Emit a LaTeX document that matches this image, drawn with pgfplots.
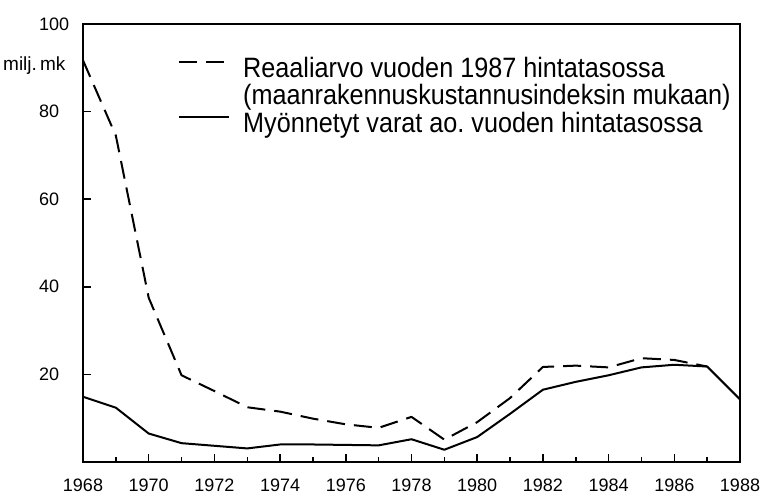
\documentclass[border=0pt]{standalone}
\usepackage{fontspec}
\setmainfont{Liberation Sans}
\newfontfamily\legfont{Liberation Sans}[FakeStretch=0.9]
\usepackage{pgfplots}
\pgfplotsset{compat=1.18}
\pgfplotstableread{
year val
1968 91.7
1969 74.5
1970 37.5
1971 19.8
1972 16.2
1973 12.5
1974 11.5
1975 9.9
1976 8.6
1977 7.8
1978 10.3
1979 5.1
1980 9.1
1981 14.6
1982 21.7
1983 22.0
1984 21.6
1985 23.7
1986 23.3
1987 21.8
}\real
\pgfplotstableread{
year val
1968 14.9
1969 12.4
1970 6.5
1971 4.3
1972 3.7
1973 3.1
1974 4.0
1975 4.0
1976 3.9
1977 3.8
1978 5.2
1979 2.8
1980 5.7
1981 11.0
1982 16.5
1983 18.3
1984 19.8
1985 21.6
1986 22.2
1987 21.8
1988 14.3
}\nominal
\begin{document}
\begin{tikzpicture}
\path[use as bounding box] (-83pt,-41pt) rectangle (677pt,462pt);
\begin{axis}[
  at={(0pt,0pt)}, anchor=south west,
  scale only axis, clip=false,
  width=657pt, height=438pt,
  xmin=1968, xmax=1988, ymin=0, ymax=100,
  xtick={1968,1970,...,1988},
  minor xtick={1969,1971,...,1987},
  ytick={20,40,60,80,100},
  tick pos=left,
  tick align=inside,
  major tick length=8pt, minor tick length=4.5pt,
  axis line style={line width=1.7pt},
  every tick/.style={line width=1.5pt, black},
  xticklabel style={font=\fontsize{18}{20}\selectfont, yshift=-13pt},
  yticklabel style={font=\fontsize{18}{20}\selectfont, anchor=west, inner sep=0pt, xshift=-44pt},
  /pgf/number format/1000 sep={},
  /pgf/number format/assume math mode=true,
  legend style={draw=none, fill=none, inner sep=0pt, at={(rel axis cs:0.1446,0.93)}, anchor=north west,
    font=\legfont\fontsize{28}{30}\selectfont, row sep=2pt,
    nodes={inner sep=2pt, text depth=0.15em},
    /tikz/every odd column/.append style={column sep=11pt}},
  legend cell align=left,
  legend image code/.code={\path[draw=none,fill=none] (0pt,-12pt) rectangle (50pt,6pt); \draw[#1] (0pt,6pt) -- (50pt,6pt);},
]
\addplot[black, line width=2pt, line join=round, dash pattern=on 18pt off 9pt] table[x=year,y=val] {\real};
\addlegendentry{Reaaliarvo vuoden 1987 hintatasossa}
\addlegendimage{empty legend}
\addlegendentry{(maanrakennuskustannusindeksin mukaan)}
\addplot[black, line width=2pt, line join=round] table[x=year,y=val] {\nominal};
\addlegendentry{Myönnetyt varat ao.\ vuoden hintatasossa}
\node[anchor=west, inner sep=0pt, font=\fontsize{19}{21}\selectfont] at (rel axis cs:0,0.905) [xshift=-80pt] {milj.\,mk};
\end{axis}
\end{tikzpicture}
\end{document}
